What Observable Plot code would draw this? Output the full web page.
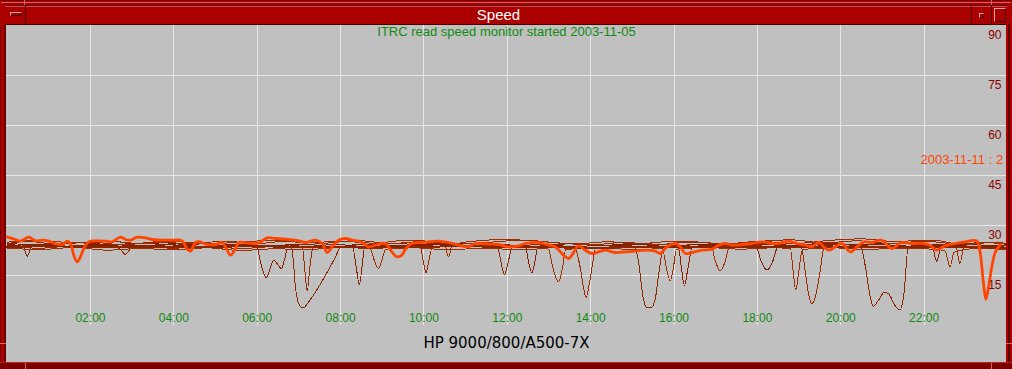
<!DOCTYPE html>
<html>
<head>
<meta charset="utf-8">
<script src="https://cdn.jsdelivr.net/npm/d3@7"></script>
<script src="https://cdn.jsdelivr.net/npm/@observablehq/plot@0.6"></script>
<style>
  html, body { margin:0; padding:0; background:#AA0000; }
  #win { position:relative; width:1012px; height:369px; background:#AA0000; overflow:hidden; font-family:"Liberation Sans", Arial, sans-serif; }
  #win > div { position:absolute; }
  #plot { left:6px; top:25px; width:1000px; height:338px; overflow:hidden; background:#C0C0C0; }
  #plot svg { display:block; }
</style>
</head>
<body>
<div id="win">
  <div style="left:0;top:0;width:1012px;height:1px;background:#700000"></div>
  <div style="left:1px;top:2px;width:1010px;height:1px;background:#D86060"></div>
  <div style="left:24px;top:0;width:1px;height:6px;background:#D86060"></div>
  <div style="left:991px;top:0;width:1px;height:6px;background:#D86060"></div>
  <div style="left:5px;top:5px;width:1002px;height:1px;background:#5A0000"></div>
  <div style="left:5px;top:6px;width:1002px;height:1px;background:#D05050"></div>
  <div style="left:5px;top:24px;width:1002px;height:1px;background:#4A0000"></div>
  <div style="left:25px;top:6px;width:1px;height:18px;background:#4A0000"></div>
  <div style="left:971px;top:6px;width:1px;height:18px;background:#4A0000"></div>
  <div style="left:991px;top:6px;width:1px;height:18px;background:#4A0000"></div>
  <div style="left:10px;top:12px;width:10px;height:2px;border:1px solid;border-color:#F0A0A0 #4A0000 #4A0000 #F0A0A0"></div>
  <div style="left:979px;top:13px;width:3px;height:3px;border:1px solid;border-color:#F0A0A0 #4A0000 #4A0000 #F0A0A0"></div>
  <div style="left:994px;top:8px;width:10px;height:12px;border:1px solid;border-color:#F0A0A0 #4A0000 #4A0000 #F0A0A0"></div>
  <div id="title" style="left:26px;top:6px;width:945px;height:18px;line-height:18px;text-align:center;color:#FFFFFF;font-size:15px;">Speed</div>
  <div id="plot"></div>
  <div style="left:0;top:25px;width:1px;height:338px;background:#700000"></div>
  <div style="left:4px;top:25px;width:2px;height:338px;background:#6A0000"></div>
  <div style="left:0;top:343px;width:6px;height:1px;background:#D86060"></div>
  <div style="left:1006px;top:24px;width:2px;height:345px;background:#AA0000"></div>
  <div style="left:1008px;top:24px;width:2px;height:345px;background:#5A0000"></div>
  <div style="left:1006px;top:343px;width:6px;height:1px;background:#D86060"></div>
  <div style="left:0;top:362px;width:1012px;height:1px;background:#C02020"></div>
  <div style="left:0;top:363px;width:1012px;height:6px;background:#7A0000"></div>
  <div style="left:25px;top:363px;width:1px;height:6px;background:#D86060"></div>
  <div style="left:991px;top:363px;width:1px;height:6px;background:#D86060"></div>
</div>
<script>
// ---- tick labels / annotations ----
const xTickHours = [2, 4, 6, 8, 10, 12, 14, 16, 18, 20, 22];
const xTickLabels = ["02:00", "04:00", "06:00", "08:00", "10:00", "12:00", "14:00", "16:00", "18:00", "20:00", "22:00"];
const yTickValues = [90, 75, 60, 45, 30, 15];
const yTickLabels = ["90", "75", "60", "45", "30", "15"];
const yGridValues = [15, 30, 45, 60, 75];
const subtitle = "ITRC read speed monitor started 2003-11-05";
const hostLabel = "HP 9000/800/A500-7X";
const latestLabel = "2003-11-11 : 2";

// ---- highlighted (latest day) series: hour of day, MB/s ----
const orangeHours = [0.00,0.20,0.32,0.52,0.68,0.84,1.00,1.16,1.32,1.44,
  1.52,1.60,1.68,1.76,1.84,1.96,2.12,2.36,2.52,2.72,
  2.84,2.96,3.12,3.32,3.48,3.72,3.96,4.20,4.32,4.40,
  4.52,4.64,4.76,5.00,5.16,5.24,5.36,5.48,5.56,5.72,
  5.96,6.08,6.24,6.44,6.68,7.00,7.16,7.40,7.56,7.68,
  7.80,7.95,8.12,8.28,8.48,8.59,8.67,8.83,9.07,9.23,
  9.35,9.47,9.55,9.71,9.95,10.35,10.59,10.83,11.07,11.23,
  11.55,11.79,12.03,12.27,12.43,12.75,12.91,13.15,13.35,13.47,
  13.55,13.71,13.87,14.03,14.19,14.35,14.59,14.83,15.07,15.31,
  15.55,15.67,15.83,16.03,16.15,16.27,16.43,16.67,16.91,17.07,
  17.23,17.39,17.63,17.87,18.11,18.35,18.51,18.75,18.95,19.15,
  19.31,19.47,19.59,19.71,19.87,20.03,20.23,20.39,20.55,20.75,
  20.98,21.22,21.46,21.70,21.98,22.14,22.30,22.50,22.74,22.98,
  23.26,23.34,23.42,23.48,23.54,23.63,23.71,23.83];
const orangeSpeed = [26.6,25.8,25.3,26.5,25.4,25.6,25.3,24.5,24.3,25.3,
  24.6,21.1,19.1,20.6,23.1,25.1,25.4,25.3,25.1,26.5,
  25.8,25.6,26.5,26.3,25.8,25.6,25.6,25.4,22.9,22.3,
  24.9,25.1,24.4,24.3,24.9,23.6,21.1,23.1,24.9,24.8,
  24.6,25.1,26.3,26.1,25.9,25.4,24.9,25.6,24.6,21.9,
  23.6,25.6,26.1,25.6,25.1,24.3,23.6,24.1,24.6,22.1,
  20.6,21.1,22.8,24.6,24.9,25.3,24.9,24.1,23.6,24.6,
  24.4,24.3,23.6,23.9,24.6,24.9,24.4,23.6,21.1,20.1,
  21.1,23.9,22.6,21.6,22.1,22.6,21.9,22.1,22.3,22.6,
  22.3,21.6,23.6,24.6,23.6,21.6,21.9,22.6,22.9,24.1,
  24.6,24.1,24.3,24.6,25.1,24.6,24.6,25.3,24.6,24.1,
  23.6,24.9,23.6,22.6,23.6,24.6,22.1,23.6,25.1,24.9,
  25.6,23.1,24.9,24.6,24.6,24.1,22.6,23.9,24.6,25.1,
  25.4,22.1,13.1,7.9,11.1,18.1,22.1,24.3];

// ---- earlier days: [hour, MB/s] ----
const day1 = [[0,24.3],[0.3,24.0],[0.4,23.4],[0.48,20.7],[0.58,23.5],[0.8,24.2],[1.5,23.8],[2.3,24.4],[3.2,23.9],[4.0,24.5],[4.8,23.6],[5.6,24.2],[6.4,24.0],[6.8,24.2],[6.87,19.1],[6.92,11.1],[7.04,5.6],[7.11,5.3],[7.23,7.0],[7.40,10.1],[7.64,15.1],[7.88,20.6],[8.0,23.6],[8.6,24.4],[9.4,23.8],[10.3,24.6],[11.0,24.0],[11.76,23.8],[11.85,19],[11.93,15.3],[12.02,19],[12.12,23.5],[12.8,24.3],[13.6,23.7],[14.4,24.1],[15.05,23.8],[15.15,19],[15.25,9],[15.35,5.4],[15.45,5.3],[15.55,8],[15.65,17],[15.75,23.5],[16.4,24.2],[17.2,23.8],[18.0,24.4],[18.8,23.9],[19.6,24.3],[20.47,24.0],[20.6,17],[20.7,9],[20.78,5.7],[20.9,7.5],[21.05,10],[21.15,9.5],[21.3,6],[21.42,4.7],[21.52,10],[21.62,23.8],[22.4,24.2],[23.2,23.7],[24,23.4]];
const day2 = [[0,23.6],[0.8,23.2],[1.6,23.9],[2.6,23.4],[2.72,22.8],[2.84,21.3],[2.96,23.0],[3.2,23.6],[4.0,23.2],[4.8,23.8],[5.6,23.1],[6.4,23.7],[7.0,23.8],[7.08,23.8],[7.14,17],[7.2,10.3],[7.26,17],[7.34,23.4],[8.0,23.6],[8.8,23.1],[9.6,23.9],[9.91,23.6],[9.98,19.5],[10.05,15.9],[10.12,19.5],[10.2,23.5],[11.0,23.9],[11.8,23.3],[12.6,23.8],[13.4,23.2],[13.63,23.0],[13.74,18],[13.82,12],[13.89,8.4],[13.96,12],[14.04,18],[14.12,23.2],[14.8,23.7],[15.6,23.2],[16.4,23.8],[17.2,23.3],[18.0,23.9],[18.6,23.4],[19.05,23.4],[19.15,16],[19.22,10],[19.3,6.6],[19.4,9],[19.5,16],[19.6,23.3],[20.3,23.7],[21.1,23.2],[21.9,23.8],[22.7,23.3],[23.5,23.6],[24,23.3]];
const day3 = [[0,24.6],[0.9,24.2],[1.7,24.8],[2.5,24.3],[3.3,24.7],[4.1,24.1],[4.9,24.6],[5.5,24.2],[5.98,23.8],[6.1,18],[6.22,14.3],[6.32,17.5],[6.4,19.7],[6.48,18.5],[6.58,17.1],[6.66,20],[6.74,23.8],[7.5,24.5],[8.0,24.2],[8.28,24.0],[8.37,18],[8.45,12.3],[8.52,18],[8.58,23.8],[9.3,24.6],[10.1,24.1],[10.9,24.7],[11.7,24.2],[12.43,24.0],[12.51,19],[12.59,15.8],[12.66,19],[12.74,23.8],[13.5,24.5],[14.3,24.0],[15.0,24.6],[15.8,24.2],[16.1,23.8],[16.18,17],[16.25,11.9],[16.33,17],[16.44,23.6],[17.2,24.3],[18.0,24.7],[18.8,24.1],[19.6,24.6],[20.4,24.2],[21.2,24.7],[22.0,24.3],[22.2,23.5],[22.3,19.3],[22.4,23.2],[23.0,24.4],[23.6,24.0],[24,24.2]];
const day4 = [[0,23.2],[0.8,22.8],[1.6,23.4],[2.4,22.6],[3.2,23.1],[4.0,22.7],[4.8,23.3],[5.6,22.5],[6.4,23.0],[7.2,22.8],[8.0,23.4],[8.71,23.0],[8.81,19.5],[8.91,17.1],[8.99,19.5],[9.08,22.9],[9.8,23.3],[10.6,22.7],[11.4,23.2],[12.2,22.8],[12.98,23.0],[13.1,17],[13.23,13.1],[13.32,17],[13.4,22.8],[14.2,23.3],[15.0,22.8],[15.72,23.0],[15.82,17],[15.91,13.4],[15.98,17],[16.06,22.9],[16.8,23.4],[17.6,22.9],[18.4,23.3],[18.79,23.1],[18.86,16],[18.92,10.6],[18.99,16],[19.08,22.8],[19.8,23.3],[20.6,22.8],[21.4,23.2],[22.2,22.9],[22.5,22.4],[22.62,17.6],[22.72,22.0],[23.2,23.1],[24,22.8]];
const day5 = [[0,25.0],[0.8,25.5],[1.6,24.8],[2.4,25.3],[3.2,24.6],[4.0,25.2],[4.8,24.5],[5.6,25.0],[6.4,25.6],[7.2,24.8],[8.0,25.3],[8.8,24.7],[9.6,25.6],[10.3,25.0],[10.5,24.2],[10.59,20.6],[10.68,24.2],[11.2,25.3],[12.0,25.8],[12.8,25.2],[13.6,24.5],[14.4,25.1],[15.2,24.6],[16.0,25.3],[16.87,24.8],[17.0,19],[17.11,16.4],[17.22,19],[17.35,24.5],[18.1,25.2],[18.9,24.6],[19.7,25.5],[20.5,26.0],[21.3,25.2],[22.1,25.6],[22.75,24.5],[22.86,18.6],[22.96,24.0],[23.5,24.8],[24,24.5]];
const day6 = [[0,23.9],[0.7,24.3],[1.5,23.6],[2.3,24.1],[3.1,23.5],[3.9,24.2],[4.7,23.7],[5.5,24.4],[6.3,23.9],[7.1,24.3],[7.9,23.7],[8.7,24.4],[9.5,23.9],[10.3,24.3],[11.1,23.6],[11.9,24.2],[12.7,23.8],[13.5,24.5],[14.3,23.9],[15.1,24.3],[15.9,23.7],[16.7,24.4],[17.5,23.9],[17.95,24.0],[18.1,19],[18.23,16.6],[18.36,19],[18.5,23.8],[19.3,24.2],[20.1,23.7],[20.9,24.3],[21.7,23.8],[22.5,24.1],[23.3,23.6],[24,23.9]];
const day7 = [[0,23.6],[1,23.8],[2,23.5],[3,23.7],[4,23.4],[5,23.6],[6,23.8],[7,23.5],[8,23.7],[9,23.4],[10,23.6],[11,23.8],[12,23.5],[13,23.6],[14,23.3],[15,23.5],[16,23.7],[17,23.4],[18,23.6],[19,23.5],[20,23.7],[21,23.4],[22,23.6],[23,23.5],[24,23.3]];
const day8 = [[0,24.6],[0.5,25.2],[1.2,24.4],[2.0,25.0],[2.8,24.2],[3.6,25.1],[4.4,24.5],[5.2,25.3],[6.0,24.6],[6.8,25.4],[7.6,24.7],[8.4,25.5],[9.2,24.6],[10.0,25.2],[10.8,24.4],[11.6,25.0],[12.4,25.6],[13.2,24.8],[14.0,24.2],[14.8,24.9],[15.6,24.3],[16.4,25.0],[17.2,24.5],[18.0,25.2],[18.8,25.7],[19.6,24.8],[20.4,25.4],[21.2,24.6],[22.0,25.3],[22.8,24.5],[23.6,25.0],[24,24.6]];

// ---- styling (kept apart from the data) ----
const pastDays = [day1, day2, day3, day4, day5, day6, day7, day8];
const pastColors = ["#8B2500", "#9A2800", "#8B1C00", "#A03000", "#A52A00", "#7F1F00", "#8B2500", "#962A00"];
const pastWidths = [1, 1, 1, 1, 1, 1, 2, 1];
const font = "Liberation Sans, Arial, sans-serif";

const chart = Plot.plot({
  width: 1000,
  height: 338,
  marginTop: 0, marginRight: 0, marginBottom: 0, marginLeft: 0,
  x: {type: "linear", domain: [0, 24], range: [0.6, 1001], axis: null},
  y: {type: "linear", domain: [0, 90], range: [300, 0], axis: null},
  style: {background: "#C0C0C0", overflow: "hidden"},
  marks: [
    Plot.ruleY(yGridValues, {y: d => d, stroke: "#E8E8E8", strokeWidth: 1, shapeRendering: "crispEdges"}),
    Plot.ruleX(xTickHours, {x: d => d, y1: 0, y2: 90, stroke: "#E8E8E8", strokeWidth: 1, shapeRendering: "crispEdges"}),
    ...pastDays.map((pts, k) => Plot.line(pts, {
      x: d => d[0], y: d => d[1],
      stroke: pastColors[k], strokeWidth: pastWidths[k], curve: "monotone-x",
      shapeRendering: "crispEdges"
    })),
    Plot.line(orangeHours, {
      x: d => d, y: (d, i) => orangeSpeed[i],
      stroke: "#FF4500", strokeWidth: 2.8, curve: "catmull-rom"
    }),
    Plot.text(xTickHours, {
      x: d => d, y: () => 0, text: (d, i) => xTickLabels[i], dy: -7,
      fill: "#108A10", fontSize: 12, fontFamily: font, lineAnchor: "middle"
    }),
    Plot.text(yTickValues, {
      y: d => d, text: (d, i) => yTickLabels[i], frameAnchor: "right", textAnchor: "end",
      dx: -5, dy: 9.5, fill: "#8B0000", fontSize: 12, fontFamily: font, lineAnchor: "middle"
    }),
    Plot.text([subtitle], {
      text: d => d, frameAnchor: "top", dy: 6, lineAnchor: "middle",
      fill: "#108A10", fontSize: 13, fontFamily: font
    }),
    Plot.text([hostLabel], {
      text: d => d, frameAnchor: "bottom", dy: -20, lineAnchor: "middle",
      fill: "#000000", fontSize: 15, fontFamily: "DejaVu Sans, sans-serif"
    }),
    Plot.text([latestLabel], {
      text: d => d, frameAnchor: "top-right", textAnchor: "start", dx: -86, dy: 134,
      lineAnchor: "middle", fill: "#FF4500", fontSize: 13, fontFamily: font
    })
  ]
});
document.getElementById("plot").appendChild(chart);
</script>
</body>
</html>
